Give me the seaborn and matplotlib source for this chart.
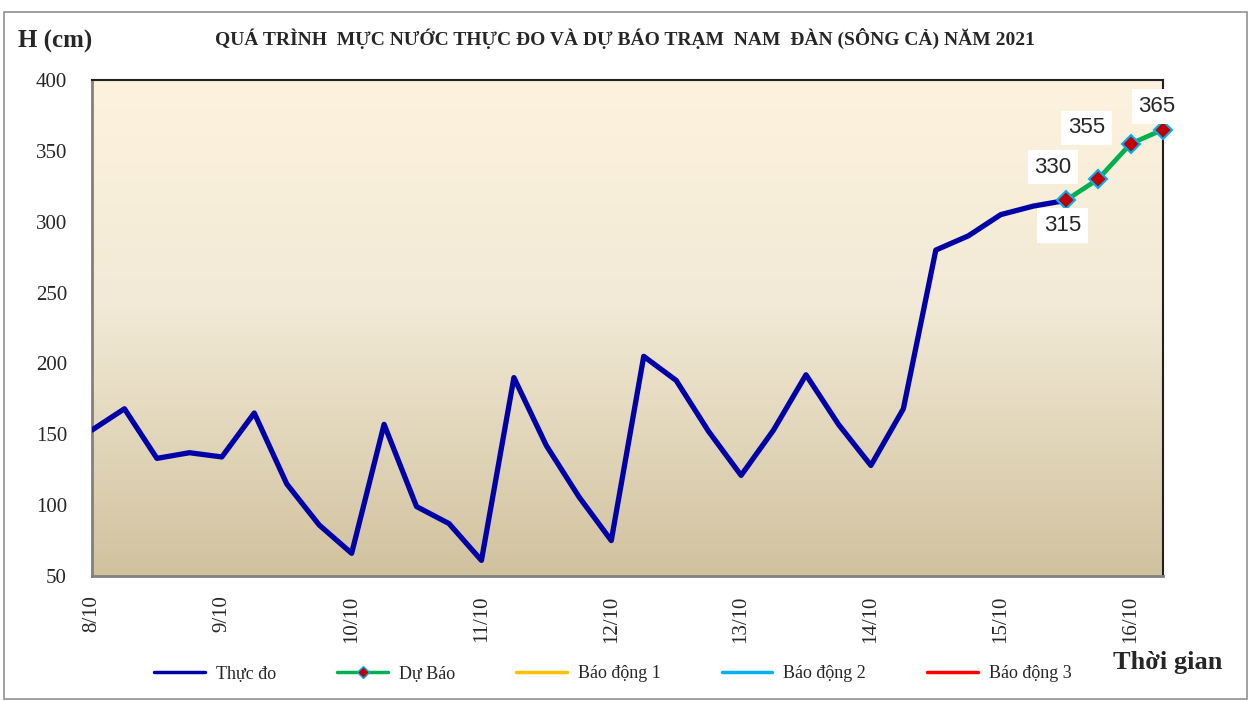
import numpy as np
import pandas as pd
import matplotlib
matplotlib.use('Agg')
import matplotlib.pyplot as plt
import seaborn as sns
from matplotlib.colors import LinearSegmentedColormap
from matplotlib.lines import Line2D
from matplotlib.patches import Rectangle
from matplotlib.dates import DayLocator, HourLocator, num2date
from matplotlib.ticker import FuncFormatter

# observed water level every 6 hours from 8/10 00h
observed = [153, 168, 133, 137, 134, 165, 115, 86, 66, 157, 99, 87, 61,
            190, 142, 106, 75, 205, 188, 152, 121, 153, 192, 157, 128,
            168, 280, 290, 305, 311, 315]
forecast = [315, 330, 355, 365]
alarm_levels = [540, 690, 790]
alarm_names = ['Báo động 1', 'Báo động 2', 'Báo động 3']
alarm_colors = ['#FFC000', '#00B0F0', '#FF0000']

obs_time = pd.date_range('2021-10-08 00:00', periods=len(observed), freq='6h')
fc_time = pd.date_range(obs_time[-1], periods=len(forecast), freq='6h')
df_obs = pd.DataFrame({'time': obs_time, 'H': observed})
df_fc = pd.DataFrame({'time': fc_time, 'H': forecast})

sns.set_style('white')
plt.rcParams['font.family'] = ['Liberation Serif', 'DejaVu Serif']

fig = plt.figure(figsize=(12.51, 7.01), dpi=100)
ax = fig.add_axes([92/1251, 1-576/701, (1163-92)/1251, (576-80)/701])

# background gradient
cmap = LinearSegmentedColormap.from_list('bg', [(0, '#D1C29E'), (0.55, '#F2EAD6'), (1, '#FDF2DE')])
grad = np.linspace(0, 1, 256).reshape(-1, 1)
ax.imshow(grad, extent=[0, 1, 0, 1], transform=ax.transAxes, aspect='auto',
          cmap=cmap, origin='lower', zorder=0)

sns.lineplot(data=df_obs, x='time', y='H', ax=ax, color='#0000A8', lw=3.8,
             solid_joinstyle='round', solid_capstyle='round', zorder=3, legend=False)
sns.lineplot(data=df_fc, x='time', y='H', ax=ax, color='#00B050', lw=3.4,
             marker='D', markersize=9, markerfacecolor='#C00000',
             markeredgecolor='#00B0F0', markeredgewidth=1.5, zorder=4, legend=False,
             clip_on=False)
for lvl, c in zip(alarm_levels, alarm_colors):
    ax.axhline(lvl, color=c, lw=2)

ax.set_xlim(pd.Timestamp('2021-10-08 00:00'), pd.Timestamp('2021-10-16 06:00'))
ax.set_ylim(50, 400)
ax.set_yticks(np.arange(50, 401, 50))
ax.xaxis.set_major_locator(DayLocator())
ax.xaxis.set_minor_locator(HourLocator(byhour=[6, 12, 18]))
ax.xaxis.set_major_formatter(FuncFormatter(
    lambda v, p: f"{num2date(v).day}/{num2date(v).month}"))
ax.tick_params(axis='x', which='both', direction='in', length=5, width=1.2,
               color='#808080', labelrotation=90, labelsize=15, pad=14)
ax.tick_params(axis='y', direction='out', length=8, width=1.2, color='#808080',
               labelsize=15, pad=10)
for lab in ax.get_xticklabels():
    lab.set_verticalalignment('top')
ax.set_xlabel('')
ax.set_ylabel('')
for side in ['left', 'bottom']:
    ax.spines[side].set_color('#808080')
    ax.spines[side].set_linewidth(2)
for side in ['top', 'right']:
    ax.spines[side].set_color('#202020')
    ax.spines[side].set_linewidth(1.5)

# data labels for forecast
offsets = [(-3, -25), (-45, 12), (-44, 16), (-6, 23)]
for t, h, (dx, dy) in zip(fc_time, forecast, offsets):
    ax.annotate(f'{h}', xy=(t, h), xytext=(dx, dy), textcoords='offset pixels',
                ha='center', va='center', fontsize=16, family='Liberation Sans',
                bbox=dict(boxstyle='square,pad=0.3', fc='white', ec='none'), zorder=6,
                annotation_clip=False)

fig.text(18/1251, 1-41/701, 'H (cm)', fontsize=18, fontweight='bold', va='center', ha='left')
fig.text(625/1251, 1-38/701, 'QUÁ TRÌNH  MỰC NƯỚC THỰC ĐO VÀ DỰ BÁO TRẠM  NAM  ĐÀN (SÔNG CẢ) NĂM 2021',
         fontsize=14, fontweight='bold', va='center', ha='center')
fig.text(1222/1251, 1-663/701, 'Thời gian', fontsize=19, fontweight='bold', va='center', ha='right')

handles = [Line2D([], [], color='#0000A8', lw=2.5),
           Line2D([], [], color='#00B050', lw=2.5, marker='D', markersize=6,
                  markerfacecolor='#C00000', markeredgecolor='#00B0F0')]
handles += [Line2D([], [], color=c, lw=2.5) for c in alarm_colors]
labels = ['Thực đo', 'Dự Báo'] + alarm_names
fig.legend(handles, labels, loc='center', bbox_to_anchor=(613/1251, 1-674/701), ncol=5,
           frameon=False, fontsize=13, handlelength=2.8, columnspacing=3.4, handletextpad=0.6)

fig.add_artist(Rectangle((4/1251, 2/701), 1243/1251, 687/701, transform=fig.transFigure,
                         fill=False, ec='#909090', lw=1.2))

fig.savefig('out.png', dpi=100)
